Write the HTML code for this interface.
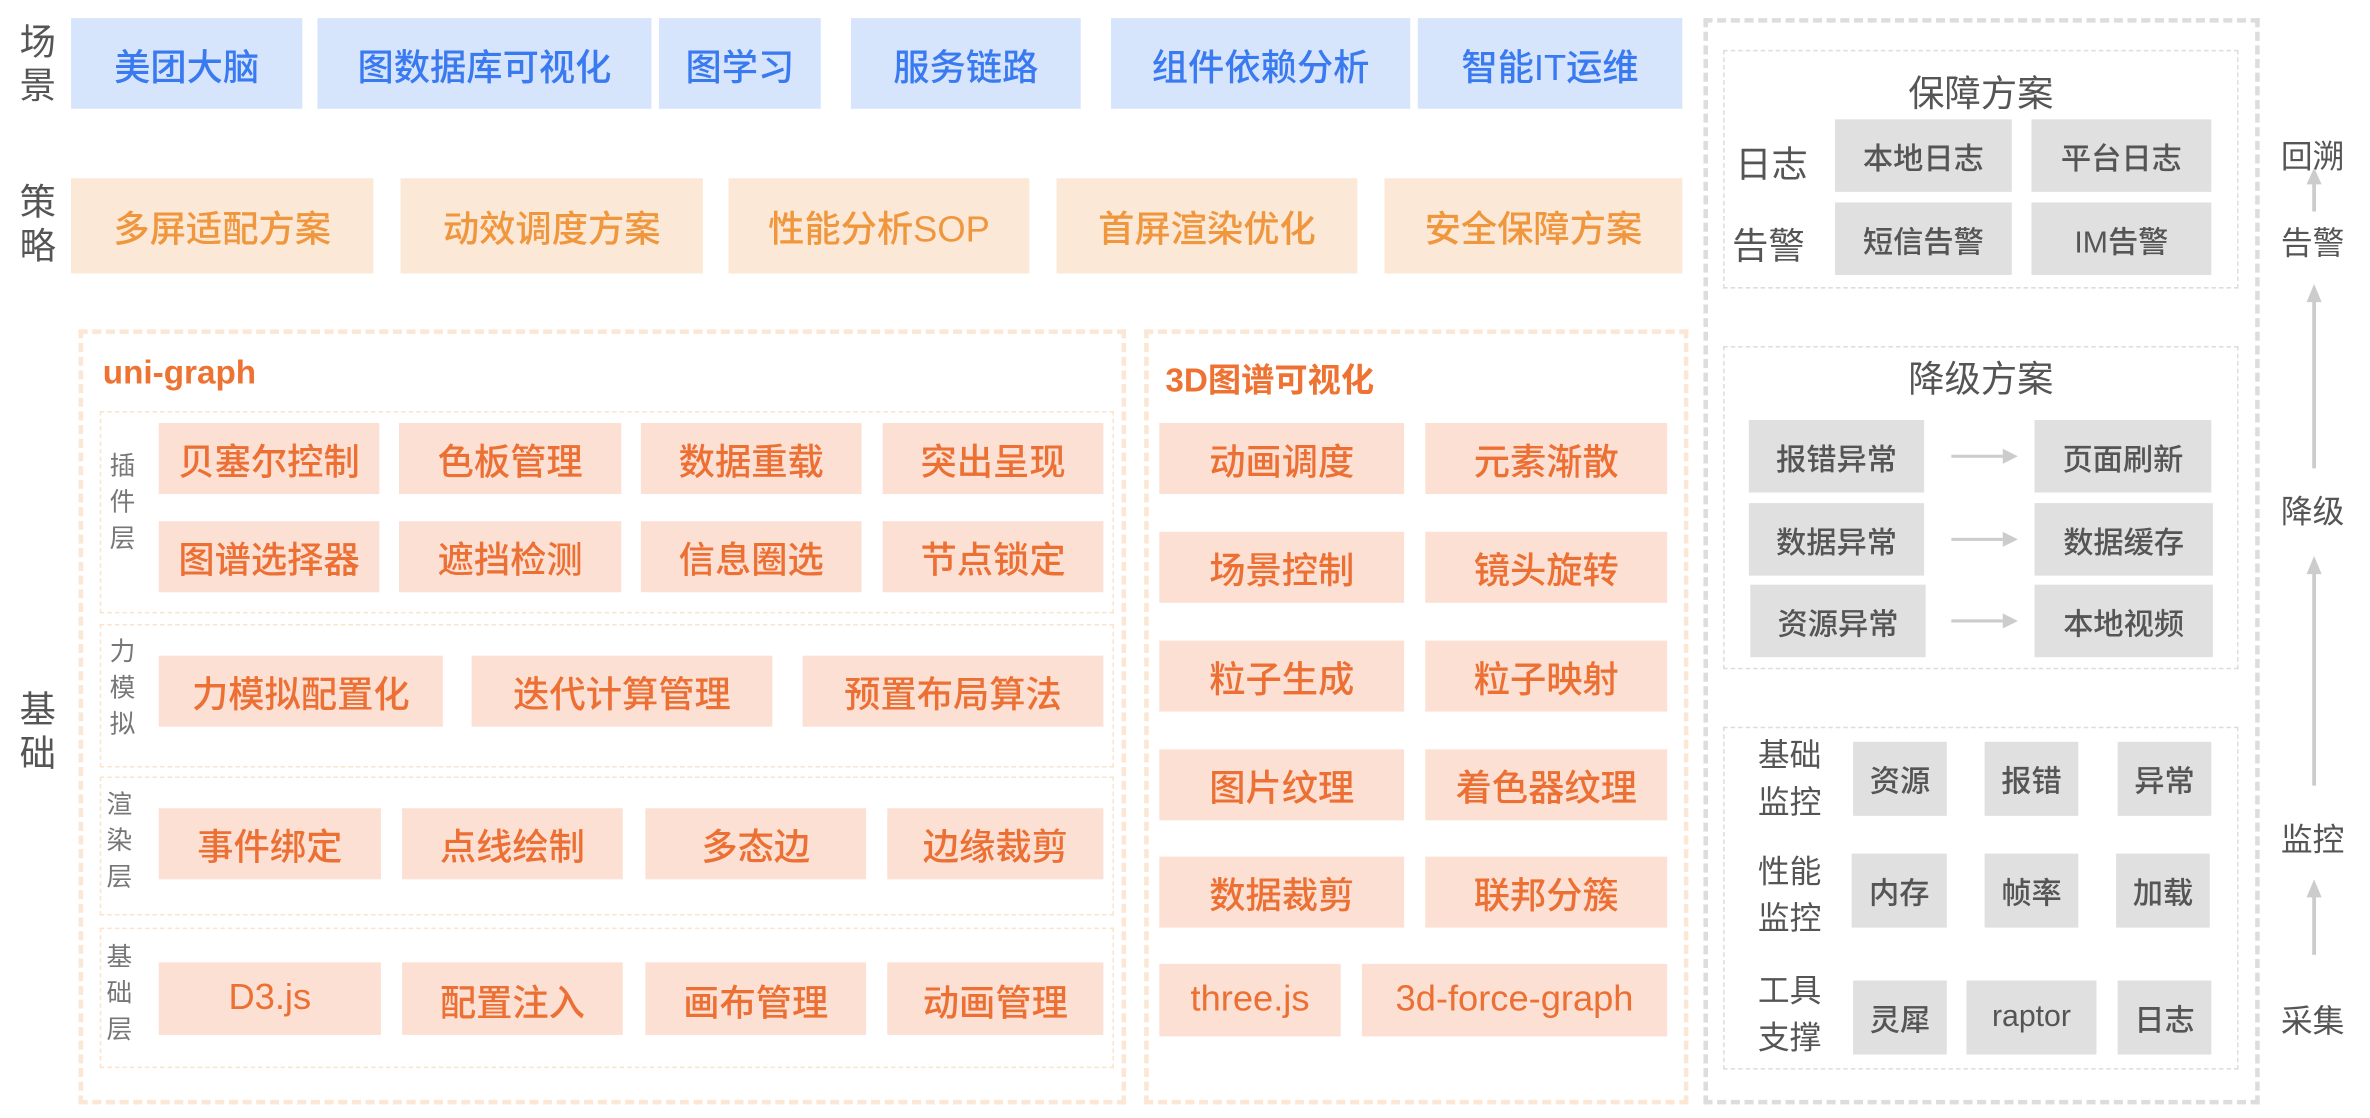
<!DOCTYPE html>
<html><head><meta charset="utf-8"><style>
html,body{margin:0;padding:0;background:#fff;width:2370px;height:1118px;overflow:hidden}
#c{position:absolute;left:0;top:0;width:1568px;height:740px;transform-origin:0 0;transform:scale(1.5115,1.5108);font-family:"Liberation Sans","Noto Sans CJK SC",sans-serif}
.b{position:absolute;display:flex;align-items:center;justify-content:center;white-space:nowrap;font-weight:500}
.bl{background:#d6e4fc;color:#3a7af0;font-size:24px}
.st{background:#fbe8d7;color:#f0963c;font-size:24px}
.or{background:#fbe0d3;color:#ec6f33;font-size:24px}
.gr{background:#e0e0e0;color:#555;font-size:20px}
.lb{position:absolute;color:#555;font-size:24px;line-height:29px;width:30px;text-align:center}
.sl{position:absolute;color:#777;font-size:17px;line-height:24px;width:20px;text-align:center}
.d{position:absolute;box-sizing:border-box}
.t{position:absolute;white-space:nowrap}
</style></head><body><div id="c">

<div class="lb" style="left:10px;top:14px">场<br>景</div>
<div class="b bl" style="left:47px;top:12px;width:153px;height:60px">美团大脑</div>
<div class="b bl" style="left:210px;top:12px;width:221px;height:60px">图数据库可视化</div>
<div class="b bl" style="left:436px;top:12px;width:107px;height:60px">图学习</div>
<div class="b bl" style="left:563px;top:12px;width:152px;height:60px">服务链路</div>
<div class="b bl" style="left:735px;top:12px;width:198px;height:60px">组件依赖分析</div>
<div class="b bl" style="left:938px;top:12px;width:175px;height:60px">智能IT运维</div>

<div class="lb" style="left:10px;top:120px">策<br>略</div>
<div class="b st" style="left:47px;top:118px;width:200px;height:63px">多屏适配方案</div>
<div class="b st" style="left:265px;top:118px;width:200px;height:63px">动效调度方案</div>
<div class="b st" style="left:482px;top:118px;width:199px;height:63px">性能分析SOP</div>
<div class="b st" style="left:699px;top:118px;width:199px;height:63px">首屏渲染优化</div>
<div class="b st" style="left:916px;top:118px;width:197px;height:63px">安全保障方案</div>

<div class="lb" style="left:10px;top:456px">基<br>础</div>

<div class="d" style="left:52px;top:218px;width:693px;height:513px;border:3px dashed #fce6d4"></div>
<div class="t" style="left:68px;top:234px;font-size:22px;font-weight:bold;color:#ee7333">uni-graph</div>

<div class="d" style="left:66px;top:272px;width:671px;height:134px;border:1.5px dashed #fbe3cc"></div>
<div class="sl" style="left:71px;top:297px">插<br>件<br>层</div>
<div class="b or" style="left:105px;top:280px;width:146px;height:47px">贝塞尔控制</div>
<div class="b or" style="left:264px;top:280px;width:147px;height:47px">色板管理</div>
<div class="b or" style="left:424px;top:280px;width:146px;height:47px">数据重载</div>
<div class="b or" style="left:584px;top:280px;width:146px;height:47px">突出呈现</div>
<div class="b or" style="left:105px;top:345px;width:146px;height:47px">图谱选择器</div>
<div class="b or" style="left:264px;top:345px;width:147px;height:47px">遮挡检测</div>
<div class="b or" style="left:424px;top:345px;width:146px;height:47px">信息圈选</div>
<div class="b or" style="left:584px;top:345px;width:146px;height:47px">节点锁定</div>

<div class="d" style="left:66px;top:413px;width:671px;height:95px;border:1.5px dashed #fbe3cc"></div>
<div class="sl" style="left:71px;top:420px">力<br>模<br>拟</div>
<div class="b or" style="left:105px;top:434px;width:188px;height:47px">力模拟配置化</div>
<div class="b or" style="left:312px;top:434px;width:199px;height:47px">迭代计算管理</div>
<div class="b or" style="left:531px;top:434px;width:199px;height:47px">预置布局算法</div>

<div class="d" style="left:66px;top:514px;width:671px;height:92px;border:1.5px dashed #fbe3cc"></div>
<div class="sl" style="left:69px;top:521px">渲<br>染<br>层</div>
<div class="b or" style="left:105px;top:535px;width:147px;height:47px">事件绑定</div>
<div class="b or" style="left:266px;top:535px;width:146px;height:47px">点线绘制</div>
<div class="b or" style="left:427px;top:535px;width:146px;height:47px">多态边</div>
<div class="b or" style="left:587px;top:535px;width:143px;height:47px">边缘裁剪</div>

<div class="d" style="left:66px;top:614px;width:671px;height:93px;border:1.5px dashed #fbe3cc"></div>
<div class="sl" style="left:69px;top:622px">基<br>础<br>层</div>
<div class="b or" style="left:105px;top:637px;width:147px;height:48px">D3.js</div>
<div class="b or" style="left:266px;top:637px;width:146px;height:48px">配置注入</div>
<div class="b or" style="left:427px;top:637px;width:146px;height:48px">画布管理</div>
<div class="b or" style="left:587px;top:637px;width:143px;height:48px">动画管理</div>

<div class="d" style="left:757px;top:218px;width:360px;height:513px;border:3px dashed #fce6d4"></div>
<div class="t" style="left:771px;top:234px;font-size:22px;font-weight:bold;color:#ee7333">3D图谱可视化</div>
<div class="b or" style="left:767px;top:280px;width:162px;height:47px">动画调度</div>
<div class="b or" style="left:943px;top:280px;width:160px;height:47px">元素渐散</div>
<div class="b or" style="left:767px;top:352px;width:162px;height:47px">场景控制</div>
<div class="b or" style="left:943px;top:352px;width:160px;height:47px">镜头旋转</div>
<div class="b or" style="left:767px;top:424px;width:162px;height:47px">粒子生成</div>
<div class="b or" style="left:943px;top:424px;width:160px;height:47px">粒子映射</div>
<div class="b or" style="left:767px;top:496px;width:162px;height:47px">图片纹理</div>
<div class="b or" style="left:943px;top:496px;width:160px;height:47px">着色器纹理</div>
<div class="b or" style="left:767px;top:567px;width:162px;height:47px">数据裁剪</div>
<div class="b or" style="left:943px;top:567px;width:160px;height:47px">联邦分簇</div>
<div class="b or" style="left:767px;top:638px;width:120px;height:48px">three.js</div>
<div class="b or" style="left:901px;top:638px;width:202px;height:48px">3d-force-graph</div>

<div class="d" style="left:1127px;top:12px;width:368px;height:719px;border:3px dashed #ddd"></div>

<div class="d" style="left:1140px;top:33px;width:341px;height:158px;border:1.5px dashed #ddd"></div>
<div class="t" style="left:1140px;width:341px;text-align:center;top:42px;font-size:24px;color:#555">保障方案</div>
<div class="t" style="left:1148px;top:89px;font-size:24px;color:#555">日志</div>
<div class="t" style="left:1146px;top:143px;font-size:24px;color:#555">告警</div>
<div class="b gr" style="left:1214px;top:79px;width:117px;height:48px">本地日志</div>
<div class="b gr" style="left:1344px;top:79px;width:119px;height:48px">平台日志</div>
<div class="b gr" style="left:1214px;top:134px;width:117px;height:48px">短信告警</div>
<div class="b gr" style="left:1344px;top:134px;width:119px;height:48px">IM告警</div>

<div class="d" style="left:1140px;top:229px;width:341px;height:214px;border:1.5px dashed #ddd"></div>
<div class="t" style="left:1140px;width:341px;text-align:center;top:231px;font-size:24px;color:#555">降级方案</div>
<div class="b gr" style="left:1157px;top:278px;width:116px;height:48px">报错异常</div>
<div class="b gr" style="left:1157px;top:333px;width:116px;height:48px">数据异常</div>
<div class="b gr" style="left:1158px;top:387px;width:116px;height:48px">资源异常</div>
<div class="b gr" style="left:1346px;top:278px;width:117px;height:48px">页面刷新</div>
<div class="b gr" style="left:1346px;top:333px;width:118px;height:48px">数据缓存</div>
<div class="b gr" style="left:1346px;top:387px;width:118px;height:48px">本地视频</div>
<svg class="d" style="left:0;top:0" width="1568" height="740">
<g fill="#ccc" stroke="#ccc">
<line x1="1291" y1="302" x2="1325" y2="302" stroke-width="2"/><polygon points="1325,297 1335,302 1325,307" stroke="none"/>
<line x1="1291" y1="357" x2="1325" y2="357" stroke-width="2"/><polygon points="1325,352 1335,357 1325,362" stroke="none"/>
<line x1="1291" y1="411" x2="1325" y2="411" stroke-width="2"/><polygon points="1325,406 1335,411 1325,416" stroke="none"/>
<line x1="1531" y1="120" x2="1531" y2="140" stroke-width="2.5"/><polygon points="1526,122 1531,111 1536,122" stroke="none"/>
<line x1="1531" y1="198" x2="1531" y2="310" stroke-width="2.5"/><polygon points="1526,200 1531,188 1536,200" stroke="none"/>
<line x1="1531" y1="378" x2="1531" y2="520" stroke-width="2.5"/><polygon points="1526,380 1531,368 1536,380" stroke="none"/>
<line x1="1531" y1="592" x2="1531" y2="632" stroke-width="2.5"/><polygon points="1526,594 1531,582 1536,594" stroke="none"/>
</g></svg>

<div class="d" style="left:1140px;top:481px;width:341px;height:227px;border:1.5px dashed #ddd"></div>
<div class="t" style="left:1163px;top:485px;font-size:21px;line-height:31px;color:#555">基础<br>监控</div>
<div class="t" style="left:1163px;top:562px;font-size:21px;line-height:31px;color:#555">性能<br>监控</div>
<div class="t" style="left:1163px;top:641px;font-size:21px;line-height:31px;color:#555">工具<br>支撑</div>
<div class="b gr" style="left:1226px;top:491px;width:62px;height:49px">资源</div>
<div class="b gr" style="left:1313px;top:491px;width:62px;height:49px">报错</div>
<div class="b gr" style="left:1401px;top:491px;width:62px;height:49px">异常</div>
<div class="b gr" style="left:1225px;top:565px;width:63px;height:49px">内存</div>
<div class="b gr" style="left:1313px;top:565px;width:62px;height:49px">帧率</div>
<div class="b gr" style="left:1400px;top:565px;width:62px;height:49px">加载</div>
<div class="b gr" style="left:1226px;top:649px;width:62px;height:49px">灵犀</div>
<div class="b gr" style="left:1301px;top:649px;width:86px;height:49px">raptor</div>
<div class="b gr" style="left:1401px;top:649px;width:62px;height:49px">日志</div>

<div class="t" style="left:1509px;top:88px;font-size:21px;color:#555">回溯</div>
<div class="t" style="left:1509px;top:145px;font-size:21px;color:#555">告警</div>
<div class="t" style="left:1509px;top:323px;font-size:21px;color:#555">降级</div>
<div class="t" style="left:1509px;top:540px;font-size:21px;color:#555">监控</div>
<div class="t" style="left:1509px;top:660px;font-size:21px;color:#555">采集</div>

</div></body></html>
